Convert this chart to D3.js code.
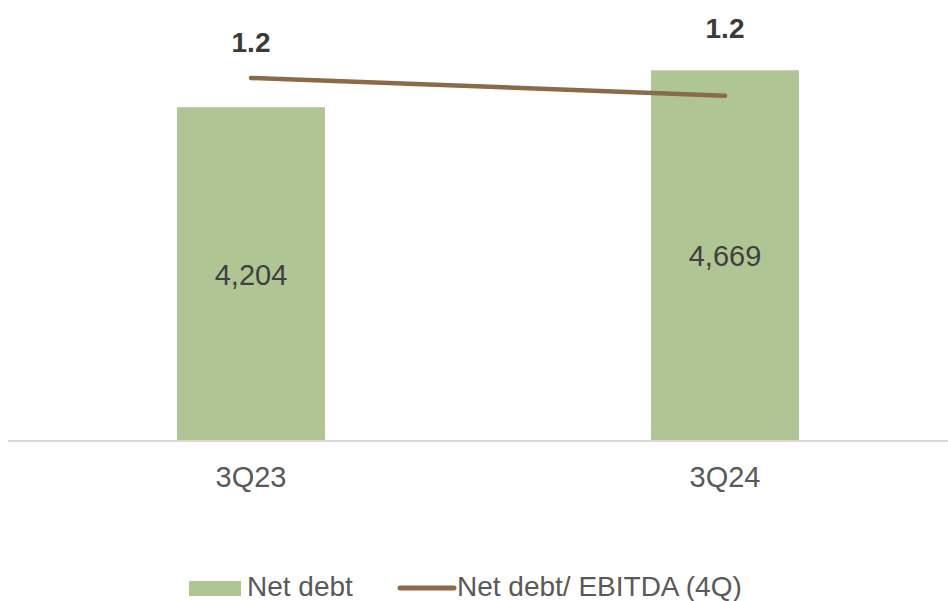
<!DOCTYPE html>
<html>
<head>
<meta charset="utf-8">
<script src="https://cdn.jsdelivr.net/npm/d3@7"></script>
<style>
  body { margin: 0; background: #fff; }
  text { font-family: "Liberation Sans", Arial, sans-serif; }
</style>
</head>
<body>
<script>
// chart data
const quarters = ['3Q23', '3Q24'];
const netDebt = [4204, 4669];
const leverage = [1.23, 1.17];      // Net debt / EBITDA (4Q), labels show 1.2
const leverageLabels = ['1.2', '1.2'];
const legendNames = ['Net debt', 'Net debt/ EBITDA (4Q)'];

const width = 948, height = 601;
const baseY = 441, topY = 44;
const barColor = '#b0c594', lineColor = '#8b6a47';

let svg = d3.select('body').append('svg')
    .attr('width', width)
    .attr('height', height);

let x = d3.scaleBand()
    .domain(quarters)
    .range([14, 962])
    .paddingInner(0.688)
    .paddingOuter(0.344);

let y = d3.scaleLinear().domain([0, 5000]).range([baseY, topY]);
let y2 = d3.scaleLinear().domain([0, 1.345]).range([baseY, topY]);

// bars
svg.selectAll('rect.bar')
    .data(netDebt)
    .join('rect')
    .attr('class', 'bar')
    .attr('x', (d, i) => x(quarters[i]))
    .attr('y', d => y(d))
    .attr('width', x.bandwidth())
    .attr('height', d => baseY - y(d))
    .attr('fill', barColor);

// bar value labels, centred inside bar
svg.selectAll('text.val')
    .data(netDebt)
    .join('text')
    .attr('class', 'val')
    .attr('x', (d, i) => x(quarters[i]) + x.bandwidth() / 2)
    .attr('y', d => (y(d) + baseY) / 2)
    .attr('dy', '0.36em')
    .attr('text-anchor', 'middle')
    .attr('font-size', 29)
    .attr('fill', '#404040')
    .text(d3.format(','));

// category axis
let xAxis = d3.axisBottom(x).tickSize(0).tickPadding(25);
let gx = svg.append('g')
    .attr('transform', 'translate(0,' + baseY + ')')
    .call(xAxis);
gx.select('.domain').remove();
gx.selectAll('text')
    .attr('font-size', 29)
    .attr('fill', '#595959')
    .style('font-family', '"Liberation Sans", Arial, sans-serif');
svg.append('line')
    .attr('x1', 8).attr('x2', width)
    .attr('y1', baseY).attr('y2', baseY)
    .attr('stroke', '#d9d9d9')
    .attr('stroke-width', 2);

// leverage line
let lineGen = d3.line()
    .x((d, i) => x(quarters[i]) + x.bandwidth() / 2)
    .y(d => y2(d));

svg.append('path')
    .datum(leverage)
    .attr('fill', 'none')
    .attr('stroke', lineColor)
    .attr('stroke-width', 4.5)
    .attr('stroke-linecap', 'round')
    .attr('d', lineGen);

const labelLift = [26, 58];
svg.selectAll('text.lev')
    .data(leverage)
    .join('text')
    .attr('class', 'lev')
    .attr('x', (d, i) => x(quarters[i]) + x.bandwidth() / 2)
    .attr('y', (d, i) => y2(d) - labelLift[i])
    .attr('text-anchor', 'middle')
    .attr('font-size', 28)
    .attr('font-weight', 'bold')
    .attr('fill', '#3a3a3a')
    .text((d, i) => leverageLabels[i]);

// legend
let legend = svg.append('g').attr('transform', 'translate(0,588)');
legend.append('rect')
    .attr('x', 189).attr('y', -7)
    .attr('width', 52).attr('height', 15)
    .attr('fill', barColor);
legend.append('text')
    .attr('x', 247).attr('y', 8)
    .attr('font-size', 28).attr('fill', '#595959')
    .text(legendNames[0]);
legend.append('line')
    .attr('x1', 400).attr('x2', 454)
    .attr('y1', 0).attr('y2', 0)
    .attr('stroke', lineColor)
    .attr('stroke-width', 5)
    .attr('stroke-linecap', 'round');
legend.append('text')
    .attr('x', 457).attr('y', 8)
    .attr('font-size', 28).attr('fill', '#595959')
    .text(legendNames[1]);
</script>
</body>
</html>
